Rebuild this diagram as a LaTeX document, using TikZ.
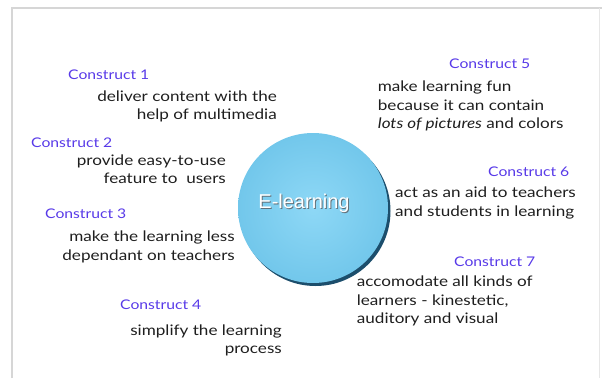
\documentclass[tikz,border=0pt]{standalone}
\usepackage{fontspec}
\setmainfont{Lato}[FakeStretch=1.18]
\newfontfamily\helv{Liberation Sans}
\usetikzlibrary{shadows}

\definecolor{conblue}{RGB}{88,58,232}
\definecolor{inktext}{RGB}{30,30,30}
\definecolor{skyhi}{RGB}{142,216,246}
\definecolor{skylo}{RGB}{114,199,235}
\definecolor{skyrim}{RGB}{28,78,108}
\definecolor{framegray}{RGB}{214,214,214}

\begin{document}
\begin{tikzpicture}[x=1pt,y=-1pt]
\tikzset{
    construct/.style={text=conblue, inner sep=0pt, font=\fontsize{13.3}{18}\selectfont},
    idea/.style={text=inktext, inner sep=0pt, font=\fontsize{14.5}{18.3}\selectfont},
    frame/.style={draw=framegray, line width=1.5pt}
}
\useasboundingbox (0,0) rectangle (602,378);
% Frame
\draw[frame] (12,378) -- (12,8) -- (602,8);
\draw[framegray!60, line width=1pt] (599.5,8) -- (599.5,378);

% Ball
\node[circle, minimum size=150pt, inner sep=0pt, inner color=skyhi, outer color=skylo,
      drop shadow={shadow xshift=2.5pt, shadow yshift=-3pt, fill=skyrim, opacity=1}] (ball) at (313,208) {};
\node[font=\helv\fontsize{20}{24}\selectfont, text=gray!70!skyrim, inner sep=0pt, anchor=base] (eshadow) at (305,209.5) {E-learning};
\node[font=\helv\fontsize{20}{24}\selectfont, text=white, inner sep=0pt, anchor=base] (elearn) at (304,208.3) {E-learning};

% Constructs
\node[construct, anchor=base west] (con1) at (68,79) {Construct 1};
\node[construct, anchor=base west] (con2) at (31,147.3) {Construct 2};
\node[construct, anchor=base west] (con3) at (45,218.3) {Construct 3};
\node[construct, anchor=base west] (con4) at (120,309) {Construct 4};
\node[construct, anchor=base west] (con5) at (449,68.3) {Construct 5};
\node[construct, anchor=base west] (con6) at (488,176.7) {Construct 6};
\node[construct, anchor=base west] (con7) at (454,266) {Construct 7};

% Ideas (anchored on the baseline of the last line)
\node[idea, align=right, anchor=base east] (idea1) at (277,119.3) {deliver content with the\\help of multimedia};
\node[idea, align=right, anchor=base east] (idea2) at (226,183.3) {provide easy-to-use\\feature to\ \ users};
\node[idea, align=right, anchor=base east] (idea3) at (235,260) {make the learning less\\dependant on teachers};
\node[idea, align=right, anchor=base east] (idea4) at (282,353.3) {simplify the learning\\process};
\node[idea, align=left, anchor=base west] (idea5) at (377.7,128.3) {make learning fun\\because it can contain\\\textit{lots of pictures} and colors};
\node[idea, align=left, anchor=base west] (idea6) at (395,216) {act as an aid to teachers\\and students in learning};
\node[idea, align=left, anchor=base west] (idea7) at (356.7,323.3) {accomodate all kinds of\\learners - kinestetic,\\auditory and visual};
\end{tikzpicture}
\end{document}
